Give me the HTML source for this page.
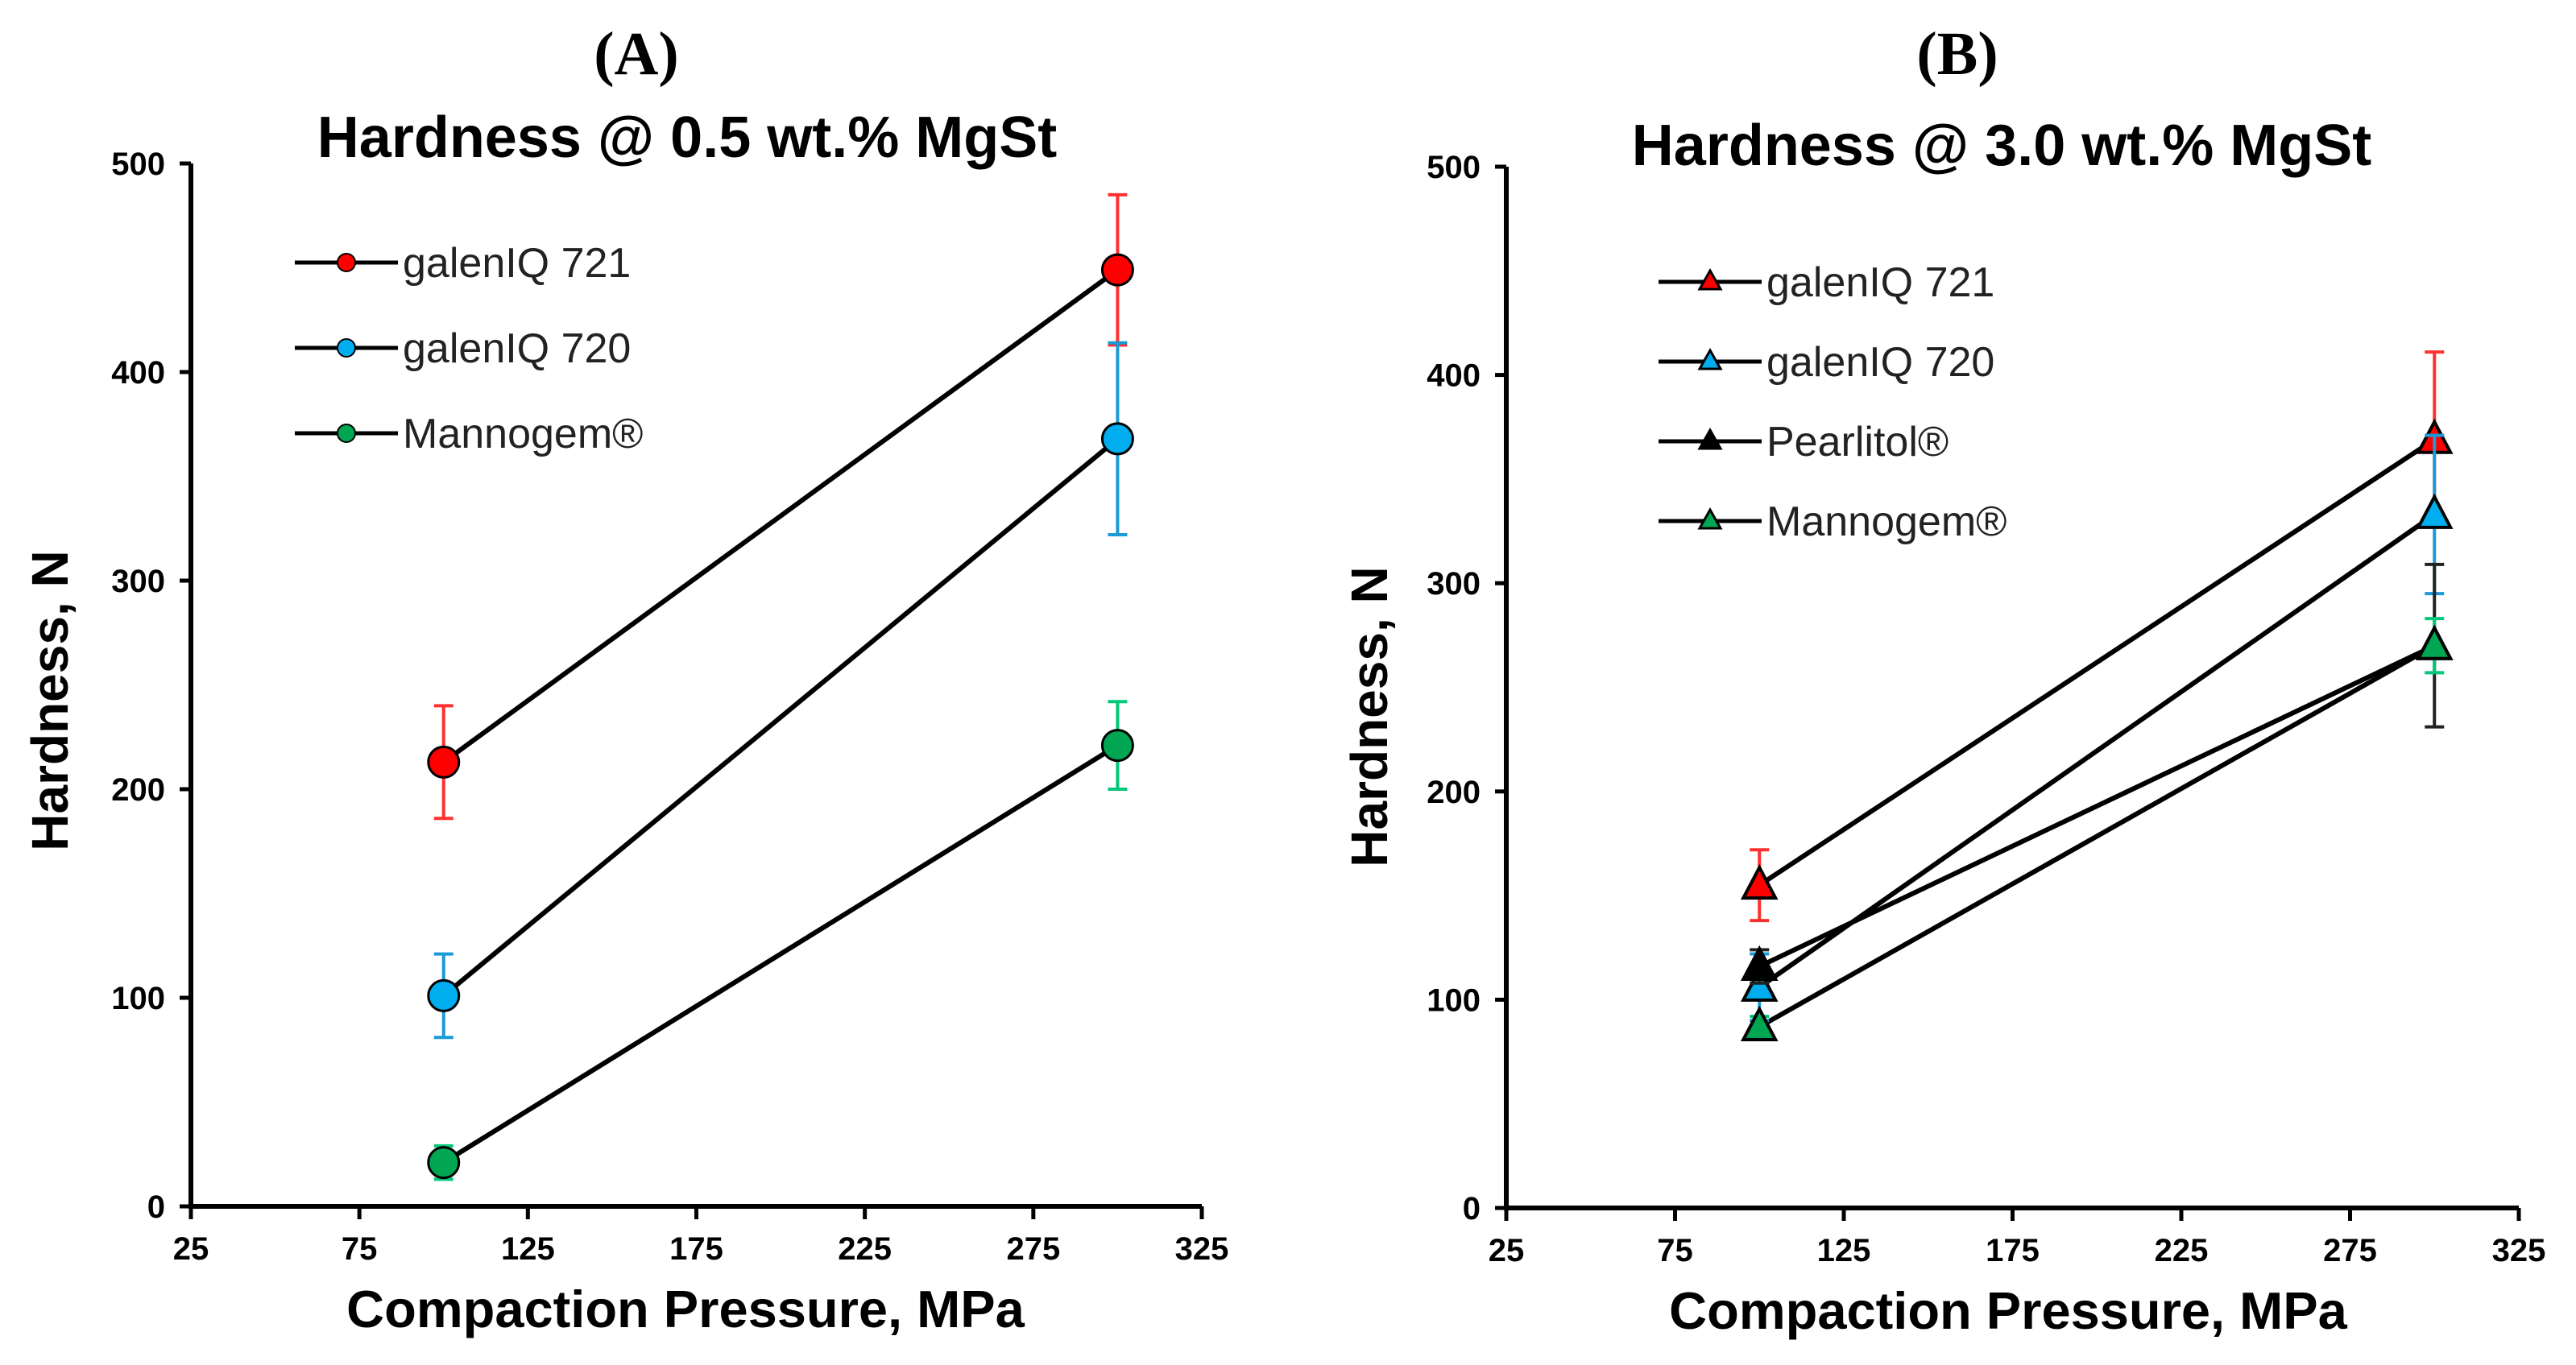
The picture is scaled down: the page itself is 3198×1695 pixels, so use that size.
<!DOCTYPE html>
<html><head><meta charset="utf-8"><style>
html,body{margin:0;padding:0;background:#fff;}
svg{display:block;}
text{font-family:"Liberation Sans",Arial,sans-serif;}
</style></head><body>
<svg id="fig" width="3198" height="1695" viewBox="0 0 3198 1695" xmlns="http://www.w3.org/2000/svg"></svg>
<script>
const xTicks = [25, 75, 125, 175, 225, 275, 325];
const yTicks = [0, 100, 200, 300, 400, 500];
const pressures = [100, 300];
// Panel A series (circles)
const aNames = ["galenIQ 721", "galenIQ 720", "Mannogem®"];
const aColors = ["#ff0000", "#00aeef", "#00a651"];
const aErrColors = ["#ff3030", "#1a9ad6", "#00c878"];
const a721 = [213, 449];
const a720 = [101, 368];
const aMan = [21, 221];
const a721Err = [27, 36];
const a720Err = [20, 46];
const aManErr = [8, 21];
// Panel B series (triangles)
const bNames = ["galenIQ 721", "galenIQ 720", "Pearlitol®", "Mannogem®"];
const bColors = ["#ff0000", "#00aeef", "#000000", "#00a651"];
const bErrColors = ["#ff3030", "#1a9ad6", "#222222", "#00c878"];
const b721 = [155, 369];
const b720 = [106, 333];
const bPea = [116, 270];
const bMan = [87, 270];
const b721Err = [17, 42];
const b720Err = [16, 38];
const bPeaErr = [8, 39];
const bManErr = [5, 13];

const svg = document.getElementById('fig');
const NS = 'http://www.w3.org/2000/svg';
function mk(tag, attrs, parent){const e=document.createElementNS(NS,tag);for(const k in attrs)e.setAttribute(k,attrs[k]);(parent||svg).appendChild(e);return e;}

function panel(cfg){
  const g = mk('g',{});
  
  
  const X = v => cfg.x0 + (v-25)/300*(cfg.x1-cfg.x0);
  const Y = v => cfg.y0 - v/500*(cfg.y0-cfg.y1);
  const L = mk('text',{x:cfg.letterX,y:92,'text-anchor':'middle','font-size':76,'font-weight':'bold',style:'font-family:"Liberation Serif",serif'},g);
  L.textContent = cfg.letter;
  
  
  const T = mk('text',{x:cfg.titleX,y:cfg.titleY,'text-anchor':'middle','font-size':72,'font-weight':'bold'},g);
  T.textContent = cfg.title;
  
  
  const ax = mk('path',{d:`M${cfg.x0},${Y(500)} V${cfg.y0} H${X(325)}`,stroke:'#000','stroke-width':6,fill:'none'},g);
  
  
  yTicks.forEach(v=>{
    mk('line',{x1:cfg.x0-14,x2:cfg.x0,y1:Y(v),y2:Y(v),stroke:'#000','stroke-width':5},g);
    const t = mk('text',{x:cfg.x0-32,y:Y(v)+14,'text-anchor':'end','font-size':40,'font-weight':'bold'},g);
    t.textContent = v;
    
    
  });
  xTicks.forEach(v=>{
    mk('line',{x1:X(v),x2:X(v),y1:cfg.y0,y2:cfg.y0+16,stroke:'#000','stroke-width':5},g);
    const t = mk('text',{x:X(v),y:cfg.y0+66,'text-anchor':'middle','font-size':40,'font-weight':'bold'},g);
    t.textContent = v;
    
    
  });
  const xt = mk('text',{x:cfg.xTitleX,y:cfg.y0+150,'text-anchor':'middle','font-size':65,'font-weight':'bold'},g);
  xt.textContent = 'Compaction Pressure, MPa';
  
  
  const yt = mk('text',{x:0,y:0,'text-anchor':'middle','font-size':64,'font-weight':'bold',transform:`translate(${cfg.yTitleX},${cfg.yTitleY}) rotate(-90)`},g);
  yt.textContent = 'Hardness, N';
  
  
  cfg.series.forEach((s,i)=>{
    const sg = mk('g',{},g);
    
    
    mk('line',{x1:X(pressures[0]),y1:Y(s.vals[0]),x2:X(pressures[1]),y2:Y(s.vals[1]),stroke:'#000','stroke-width':6},sg);
  });
  cfg.series.forEach((s,i)=>{
    const sg = mk('g',{},g);
    
    
    pressures.forEach((p,j)=>{
      const cx=X(p), v=s.vals[j], e=s.err[j];
      mk('path',{d:`M${cx},${Y(v+e)} V${Y(v-e)} M${cx-12},${Y(v+e)} H${cx+12} M${cx-12},${Y(v-e)} H${cx+12}`,stroke:s.ec,'stroke-width':4,fill:'none'},sg);
      let m;
      if(cfg.shape==='circle') m = mk('circle',{cx:cx,cy:Y(v),r:19,fill:s.color,stroke:'#000','stroke-width':3},sg);
      else m = mk('path',{d:`M${cx},${Y(v)-22} L${cx+20},${Y(v)+16} L${cx-20},${Y(v)+16} Z`,fill:s.color,stroke:'#000','stroke-width':4},sg);
      
      
    });
  });
  cfg.series.forEach((s,i)=>{
    const ly = cfg.legY + i*cfg.legStep;
    const lg = mk('g',{},g);
    
    
    mk('line',{x1:cfg.legX,x2:cfg.legX+128,y1:ly,y2:ly,stroke:'#000','stroke-width':5},lg);
    const mx = cfg.legX+64;
    if(cfg.shape==='circle') mk('circle',{cx:mx,cy:ly,r:11,fill:s.color,stroke:'#000','stroke-width':2},lg);
    else mk('path',{d:`M${mx},${ly-14} L${mx+13},${ly+9} L${mx-13},${ly+9} Z`,fill:s.color,stroke:'#000','stroke-width':3},lg);
    const t = mk('text',{x:cfg.legX+134,y:ly+18,'font-size':52,fill:'#222'},lg);
    t.textContent = s.name;
  });
}

panel({id:'panel-a',letter:'(A)',letterX:790,title:'Hardness @ 0.5 wt.% MgSt',titleX:853,titleY:195,
  x0:237,x1:1492,y0:1498,y1:203,xTitleX:851,yTitleX:84,yTitleY:870,shape:'circle',
  legX:366,legY:326,legStep:106,
  series:[
    {name:aNames[0],vals:a721,err:a721Err,color:aColors[0],ec:aErrColors[0]},
    {name:aNames[1],vals:a720,err:a720Err,color:aColors[1],ec:aErrColors[1]},
    {name:aNames[2],vals:aMan,err:aManErr,color:aColors[2],ec:aErrColors[2]}
  ]});
panel({id:'panel-b',letter:'(B)',letterX:2430,title:'Hardness @ 3.0 wt.% MgSt',titleX:2485,titleY:205,
  x0:1870,x1:3127,y0:1500,y1:207,xTitleX:2493,yTitleX:1722,yTitleY:890,shape:'triangle',
  legX:2059,legY:350,legStep:99,
  series:[
    {name:bNames[0],vals:b721,err:b721Err,color:bColors[0],ec:bErrColors[0]},
    {name:bNames[1],vals:b720,err:b720Err,color:bColors[1],ec:bErrColors[1]},
    {name:bNames[2],vals:bPea,err:bPeaErr,color:bColors[2],ec:bErrColors[2]},
    {name:bNames[3],vals:bMan,err:bManErr,color:bColors[3],ec:bErrColors[3]}
  ]});
</script>
</body></html>
